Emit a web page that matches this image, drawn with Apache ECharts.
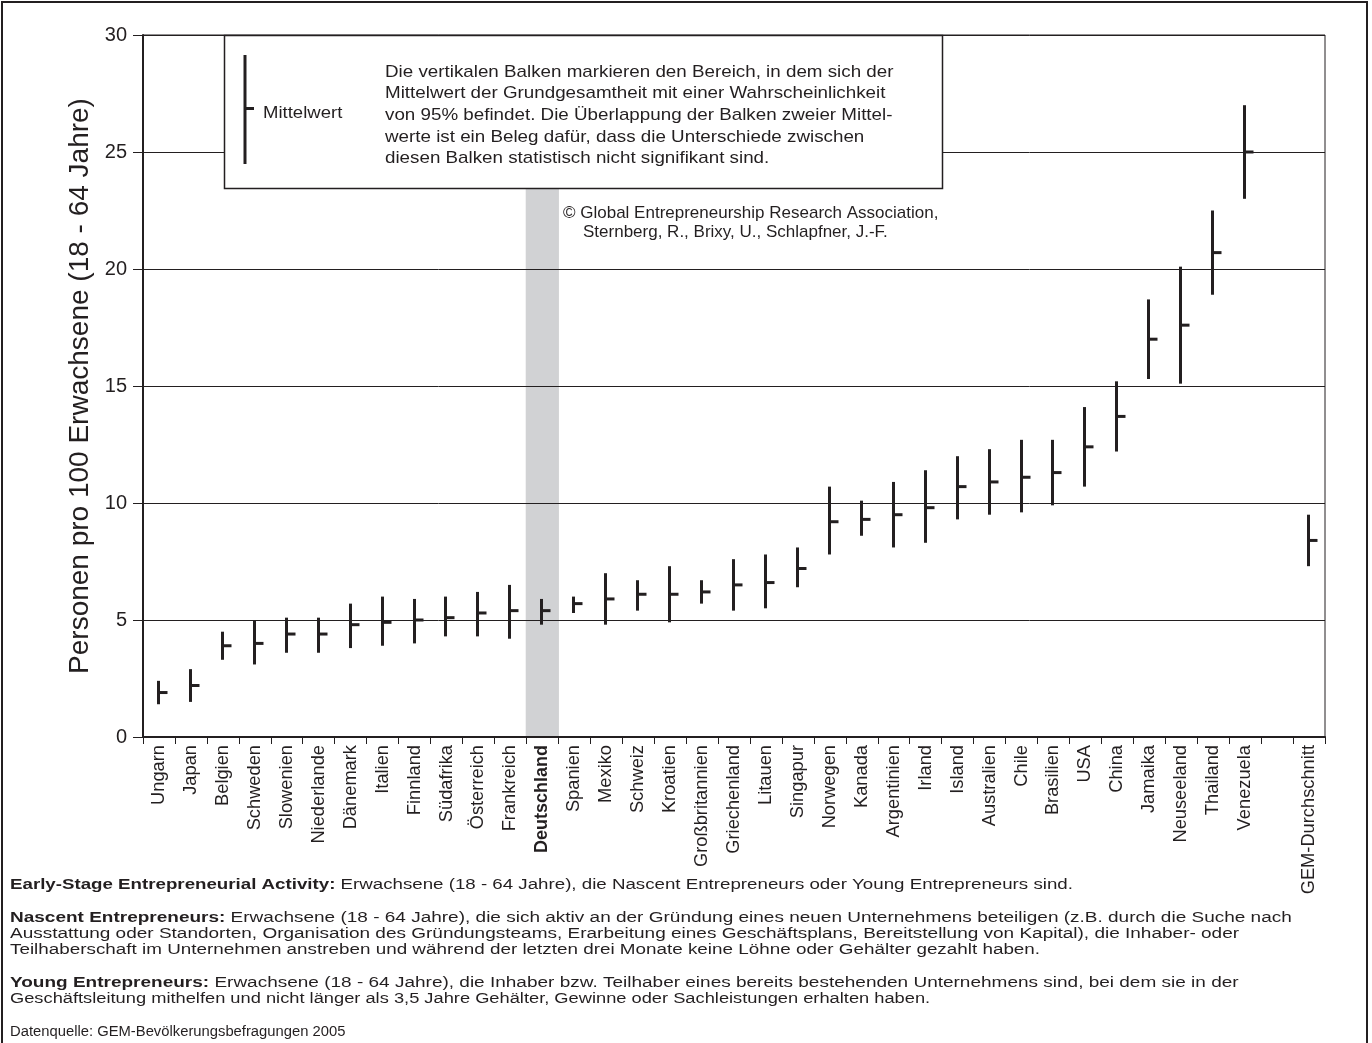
<!DOCTYPE html>
<html>
<head>
<meta charset="utf-8">
<script src="https://cdn.jsdelivr.net/npm/echarts@6/dist/echarts.min.js"></script>
<style>
html,body{margin:0;padding:0;background:#fff;}
#chart{width:1372px;height:1043px;}
</style>
</head>
<body>
<div id="chart"></div>
<script>
const categories = ['Ungarn','Japan','Belgien','Schweden','Slowenien','Niederlande','Dänemark','Italien','Finnland','Südafrika','Österreich','Frankreich','Deutschland','Spanien','Mexiko','Schweiz','Kroatien','Großbritannien','Griechenland','Litauen','Singapur','Norwegen','Kanada','Argentinien','Irland','Island','Australien','Chile','Brasilien','USA','China','Jamaika','Neuseeland','Thailand','Venezuela','','GEM-Durchschnitt'];
const lowerBound = [1.4,1.5,3.3,3.1,3.6,3.6,3.8,3.9,4.0,4.3,4.3,4.2,4.8,5.3,4.8,5.4,4.9,5.7,5.4,5.5,6.4,7.8,8.6,8.1,8.3,9.3,9.5,9.6,9.9,10.7,12.2,15.3,15.1,18.9,23.0,null,7.3];
const meanValue  = [1.9,2.2,3.9,4.0,4.4,4.4,4.8,4.9,5.0,5.1,5.3,5.4,5.4,5.7,5.9,6.1,6.1,6.2,6.5,6.6,7.2,9.2,9.3,9.5,9.8,10.7,10.9,11.1,11.3,12.4,13.7,17.0,17.6,20.7,25.0,null,8.4];
const upperBound = [2.4,2.9,4.5,5.0,5.1,5.1,5.7,6.0,5.9,6.0,6.2,6.5,5.9,6.0,7.0,6.7,7.3,6.7,7.6,7.8,8.1,10.7,10.1,10.9,11.4,12.0,12.3,12.7,12.7,14.1,15.2,18.7,20.1,22.5,27.0,null,9.5];
const highlighted = ['Deutschland'];
const yTicks = [0,5,10,15,20,25,30];

const INK = '#231f20';
const FONT = '"Liberation Sans", Arial, Helvetica, sans-serif';

const ciData = [];
categories.forEach((c, i) => {
  if (meanValue[i] !== null) ciData.push([c, lowerBound[i], meanValue[i], upperBound[i]]);
});
const bandData = categories.map(c => highlighted.includes(c) ? yTicks[yTicks.length - 1] : null);

const chart = echarts.init(document.getElementById('chart'), null, {renderer: 'canvas'});

function txt(x, y, parts, size, sx) {
  const rich = {b: {fontWeight: 'bold', fontSize: size, fontFamily: FONT, color: INK}, n: {fontSize: size, fontFamily: FONT, color: INK}};
  const t = parts.map(p => '{' + p[0] + '|' + p[1] + '}').join('');
  return {type: 'text', x: x, y: y, scaleX: sx, z: 100, style: {text: t, rich: rich, fill: INK, font: size + 'px ' + FONT, verticalAlign: 'middle'}};
}
function plain(x, y, text, size, sx) {
  return {type: 'text', z: 101, x: x, y: y, scaleX: sx, style: {text: text, font: size + 'px ' + FONT, fill: INK, verticalAlign: 'middle'}};
}

const legendLines = [
  'Die vertikalen Balken markieren den Bereich, in dem sich der',
  'Mittelwert der Grundgesamtheit mit einer Wahrscheinlichkeit',
  'von 95% befindet. Die Überlappung der Balken zweier Mittel-',
  'werte ist ein Beleg dafür, dass die Unterschiede zwischen',
  'diesen Balken statistisch nicht signifikant sind.'
];

const graphics = [
  {type: 'rect', z: 100, shape: {x: 2, y: 2, width: 1365, height: 1100}, style: {fill: null, stroke: INK, lineWidth: 2}},
  {type: 'rect', z: 100, shape: {x: 224.5, y: 35.5, width: 718, height: 153}, style: {fill: '#fff', stroke: INK, lineWidth: 1.5}},
  {type: 'line', z: 101, shape: {x1: 245, y1: 55, x2: 245, y2: 164}, style: {stroke: INK, lineWidth: 3}},
  {type: 'line', z: 101, shape: {x1: 245, y1: 108.5, x2: 254, y2: 108.5}, style: {stroke: INK, lineWidth: 3}},
  plain(263, 113, 'Mittelwert', 17, 1.09),
  plain(563, 213, '© Global Entrepreneurship Research Association,', 17, 1.0),
  plain(583, 232, 'Sternberg, R., Brixy, U., Schlapfner, J.-F.', 17, 1.0)
];
legendLines.forEach((l, i) => {
  graphics.push(plain(385, 72 + i * 21.7, l, 17, 1.105));
});

const FS = 15.5;
const K = 14.5 / FS;
const bottom = [
  [885, 1.29, [['b','Early-Stage Entrepreneurial Activity:'],['n',' Erwachsene (18 - 64 Jahre), die Nascent Entrepreneurs oder Young Entrepreneurs sind.']]],
  [918, 1.31, [['b','Nascent Entrepreneurs:'],['n',' Erwachsene (18 - 64 Jahre), die sich aktiv an der Gründung eines neuen Unternehmens beteiligen (z.B. durch die Suche nach']]],
  [934, 1.31, [['n','Ausstattung oder Standorten, Organisation des Gründungsteams, Erarbeitung eines Geschäftsplans, Bereitstellung von Kapital), die Inhaber- oder']]],
  [950, 1.30, [['n','Teilhaberschaft im Unternehmen anstreben und während der letzten drei Monate keine Löhne oder Gehälter gezahlt haben.']]],
  [983, 1.31, [['b','Young Entrepreneurs:'],['n',' Erwachsene (18 - 64 Jahre), die Inhaber bzw. Teilhaber eines bereits bestehenden Unternehmens sind, bei dem sie in der']]],
  [999, 1.26, [['n','Geschäftsleitung mithelfen und nicht länger als 3,5 Jahre Gehälter, Gewinne oder Sachleistungen erhalten haben.']]],
  [1032, 1.02, [['n','Datenquelle: GEM-Bevölkerungsbefragungen 2005']]]
];
bottom.forEach(b => graphics.push(txt(10, b[0], b[2], FS, b[1] * K)));

const option = {
  backgroundColor: '#fff',
  animation: false,
  textStyle: {fontFamily: FONT, color: INK},
  grid: {left: 143, right: 47, top: 35, bottom: 306, show: true, borderColor: INK, borderWidth: 1, backgroundColor: 'transparent'},
  xAxis: {
    type: 'category',
    data: categories,
    boundaryGap: true,
    axisLine: {lineStyle: {color: INK, width: 2}},
    axisTick: {show: true, length: 7, lineStyle: {color: INK, width: 1}},
    axisLabel: {
      interval: 0, rotate: 90, fontSize: 18.3, color: INK, fontFamily: FONT, margin: 8,
      formatter: v => highlighted.includes(v) ? '{b|' + v + '}' : v,
      rich: {b: {fontWeight: 'bold', fontSize: 18, color: INK, fontFamily: FONT}}
    },
    splitLine: {show: false}
  },
  yAxis: {
    type: 'value', min: 0, max: 30, interval: 5,
    name: 'Personen pro 100 Erwachsene (18 - 64 Jahre)',
    nameLocation: 'middle', nameGap: 47, nameRotate: 90,
    nameTextStyle: {fontSize: 28, color: INK, fontFamily: FONT},
    axisLine: {show: true, lineStyle: {color: INK, width: 2}},
    axisTick: {show: true, length: 10, lineStyle: {color: INK, width: 1}},
    axisLabel: {fontSize: 20, color: INK, fontFamily: FONT, margin: 16},
    splitLine: {show: true, lineStyle: {color: INK, width: 1}}
  },
  series: [
    {
      type: 'bar', data: bandData, barWidth: '104%', z: -1, silent: true,
      itemStyle: {color: '#d1d2d4'}
    },
    {
      type: 'custom',
      data: ciData,
      z: 5,
      renderItem: function (params, api) {
        const lo = api.coord([api.value(0), api.value(1)]);
        const hi = api.coord([api.value(0), api.value(3)]);
        const m = api.coord([api.value(0), api.value(2)]);
        const x = Math.round(m[0]) - 0.5;
        return {
          type: 'group',
          children: [
            {type: 'line', shape: {x1: x, y1: lo[1], x2: x, y2: hi[1]}, style: {stroke: INK, lineWidth: 3}},
            {type: 'line', shape: {x1: x, y1: m[1], x2: x + 9, y2: m[1]}, style: {stroke: INK, lineWidth: 3}}
          ]
        };
      }
    }
  ],
  graphic: graphics
};
chart.setOption(option);
</script>
</body>
</html>
